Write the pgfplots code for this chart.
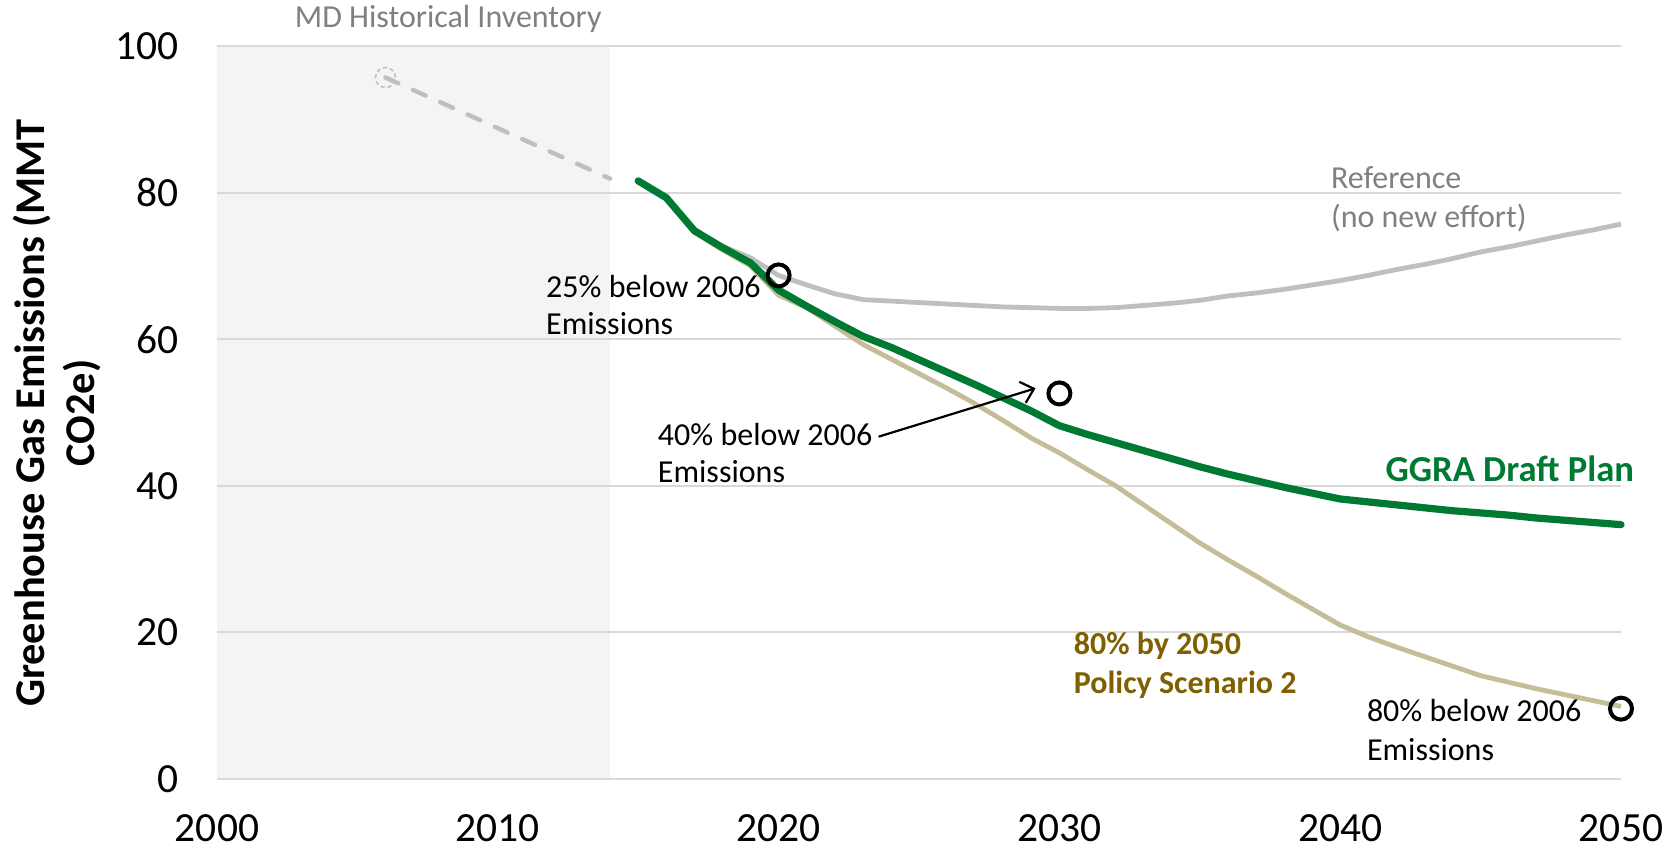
\documentclass[border=0pt]{standalone}
\usepackage{fontspec}
\setmainfont{Carlito}
\usepackage{pgfplots}
\pgfplotsset{compat=1.18}
\usetikzlibrary{arrows.meta}
\definecolor{ggreen}{HTML}{007A33}
\definecolor{refgray}{HTML}{BFBFBF}
\definecolor{tan}{HTML}{C4BD97}
\definecolor{gold}{HTML}{7F6000}
\definecolor{txtgray}{HTML}{808080}
\definecolor{gridc}{HTML}{D9D9D9}
\definecolor{shade}{HTML}{F4F4F4}
\begin{document}
\begin{tikzpicture}
\begin{axis}[
  at={(0pt,0pt)}, anchor=south west,
  scale only axis, width=702pt, height=366.5pt,
  xmin=2000, xmax=2050, ymin=0, ymax=100,
  xtick={2000,2010,2020,2030,2040,2050}, ytick={0,20,40,60,80,100},
  ymajorgrids, grid style={gridc, line width=1pt},
  axis line style={draw=none}, major tick length=0pt,
  tick label style={font=\fontsize{20.75}{24}\selectfont},
  /pgf/number format/assume math mode=true,
  /pgf/number format/1000 sep={},
  xticklabel style={anchor=base, inner sep=0pt, yshift=-31pt},
  yticklabel style={anchor=east, inner sep=0pt, xshift=-19.2pt},
  clip=false, set layers,
]
% historical shading
\addplot[fill=shade, draw=none, on layer=axis background] coordinates {(2000,100) (2014,100)} \closedcycle;
% historical inventory (dashed)
\addplot[refgray, line width=2.2pt, line cap=round, dash pattern=on 7pt off 8pt] coordinates {(2006,95.7) (2014,81.9)};
\addplot[only marks, mark=o, mark size=5pt, refgray, mark options={line width=0.8pt, dash pattern=on 2pt off 1.5pt}] coordinates {(2006,95.7)};
% reference (no new effort)
\addplot[refgray, line width=2.4pt] coordinates {
(2015,81.6) (2016,79.3) (2017,74.7) (2018,72.7) (2019,71.1) (2020,68.7)
(2021,67.4) (2022,66.2) (2023,65.4) (2024,65.2) (2025,65.0) (2026,64.8)
(2027,64.6) (2028,64.4) (2029,64.3) (2030,64.2) (2031,64.2) (2032,64.3)
(2033,64.6) (2034,64.9) (2035,65.3) (2036,65.9) (2037,66.3) (2038,66.8)
(2039,67.4) (2040,68.0) (2041,68.7) (2042,69.5) (2043,70.2) (2044,71.0)
(2045,71.9) (2046,72.6) (2047,73.4) (2048,74.2) (2049,74.9) (2050,75.7)};
% 80% by 2050 policy scenario 2
\addplot[tan, line width=2.4pt] coordinates {
(2015,81.6) (2016,79.3) (2017,74.6) (2018,72.2) (2019,70.0) (2020,66.0)
(2021,64.3) (2022,61.8) (2023,59.3) (2024,57.3) (2025,55.3) (2026,53.3)
(2027,51.2) (2028,48.9) (2029,46.5) (2030,44.5) (2031,42.2) (2032,40.0)
(2033,37.4) (2034,34.8) (2035,32.2) (2036,29.9) (2037,27.7) (2038,25.4)
(2039,23.2) (2040,21.0) (2041,19.4) (2042,18.0) (2043,16.7) (2044,15.4)
(2045,14.1) (2046,13.2) (2047,12.3) (2048,11.5) (2049,10.7) (2050,9.9)};
% GGRA draft plan
\addplot[ggreen, line width=3.6pt, line join=round, line cap=round] coordinates {
(2015,81.6) (2016,79.3) (2017,74.8) (2018,72.5) (2019,70.4) (2020,66.7)
(2021,64.5) (2022,62.4) (2023,60.4) (2024,58.9) (2025,57.2) (2026,55.5)
(2027,53.8) (2028,52.0) (2029,50.2) (2030,48.2) (2031,47.0) (2032,45.9)
(2033,44.8) (2034,43.7) (2035,42.6) (2036,41.6) (2037,40.7) (2038,39.8)
(2039,39.0) (2040,38.2) (2041,37.8) (2042,37.4) (2043,37.0) (2044,36.6)
(2045,36.3) (2046,36.0) (2047,35.6) (2048,35.3) (2049,35.0) (2050,34.7)};
% targets
\addplot[only marks, mark=o, mark size=5.5pt, black, mark options={line width=2pt}] coordinates {(2020,68.7) (2030,52.6) (2050,9.6)};
% annotations
\draw[black, line width=1.1pt, -{Straight Barb[length=6pt,width=11pt]}] (axis cs:2023.56,46.7) -- (axis cs:2029.15,53.3);
\tikzset{ann/.style={anchor=base west, inner sep=0pt, font=\fontsize{16}{19}\selectfont}}
\node[ann, text=txtgray] at (axis cs:2002.76,102.5) {MD Historical Inventory};
\node[ann] at (axis cs:2011.71,65.75) {25\% below 2006};
\node[ann] at (axis cs:2011.71,60.6) {Emissions};
\node[ann] at (axis cs:2015.69,45.55) {40\% below 2006};
\node[ann] at (axis cs:2015.69,40.45) {Emissions};
\node[ann] at (axis cs:2040.94,7.84) {80\% below 2006};
\node[ann] at (axis cs:2040.94,2.5) {Emissions};
\node[ann, text=txtgray] at (axis cs:2039.66,80.5) {Reference};
\node[ann, text=txtgray] at (axis cs:2039.66,75.3) {(no new effort)};
\node[ann, text=ggreen, font=\bfseries\fontsize{18.3}{22}\selectfont] at (axis cs:2041.6,40.55) {GGRA Draft Plan};
\node[ann, text=gold, font=\bfseries\fontsize{16}{19}\selectfont] at (axis cs:2030.5,16.96) {80\% by 2050};
\node[ann, text=gold, font=\bfseries\fontsize{16}{19}\selectfont] at (axis cs:2030.5,11.7) {Policy Scenario 2};
\end{axis}
\node[rotate=90, anchor=base, inner sep=0pt, font=\bfseries\fontsize{21.2}{25}\selectfont] at (-86.2pt,183pt) {Greenhouse Gas Emissions (MMT};
\node[rotate=90, anchor=base, inner sep=0pt, font=\bfseries\fontsize{21.2}{25}\selectfont] at (-61pt,183pt) {CO2e)};
\pgfresetboundingbox
\path[use as bounding box] (-108.5pt,-36.5pt) rectangle (729.5pt,389.5pt);
\end{tikzpicture}
\end{document}
